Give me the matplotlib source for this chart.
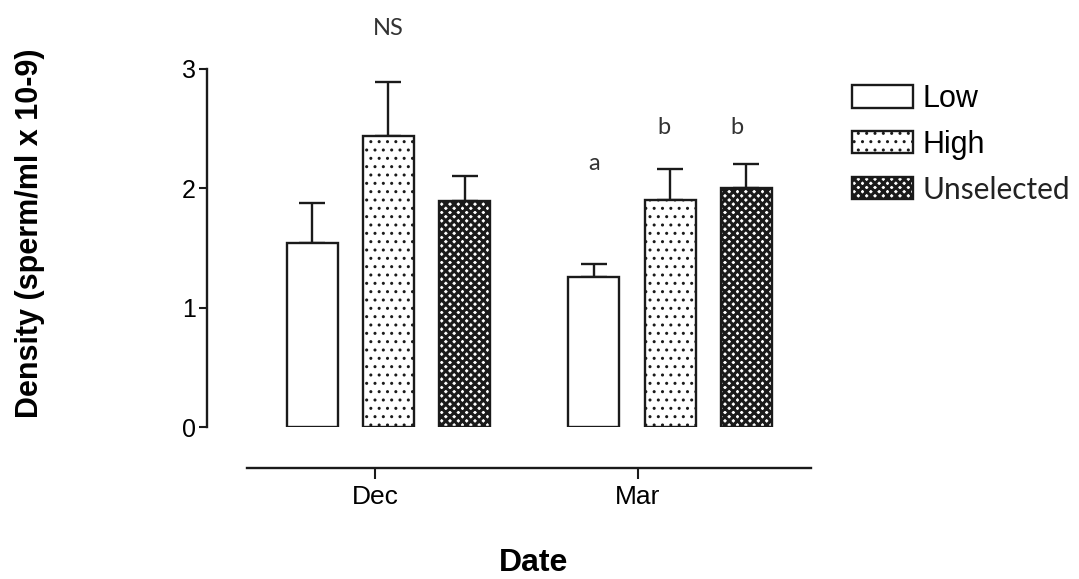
"""
Sperm density per selection line (Low / High / Unselected) in Dec and Mar.
Bar chart with upper error bars, hatched like the old GraphPad style.
"""
import matplotlib
matplotlib.use("Agg")
import matplotlib.pyplot as plt
import numpy as np

# data
months = ["Dec", "Mar"]
lines = ["Low", "High", "Unselected"]
low_mean = [1.54, 1.26]
low_err = [0.34, 0.11]
high_mean = [2.44, 1.90]
high_err = [0.45, 0.26]
unsel_mean = [1.89, 2.00]
unsel_err = [0.21, 0.20]
sig_labels = [["", "NS", ""], ["a", "b", "b"]]

# layout (data units, Dec tick = 0, Mar tick = 1)
group_centers = np.array([0.051, 1.122])
offset = 0.29
bar_w = 0.194

plt.rcParams["font.family"] = ["Liberation Sans", "DejaVu Sans"]
thin = ["Lato", "DejaVu Sans"]
ink = "#1a1a1a"

fig = plt.figure(figsize=(10.79, 5.79), dpi=100)
ax = fig.add_axes([0.19184, 0.26252, 0.55978, 0.61831])

styles = [
    dict(facecolor="white", hatch=None, hlw=1.0),
    dict(facecolor="white", hatch="..", hlw=1.0),
    dict(facecolor="white", hatch="xxxx", hlw=2.2),
]
means = [low_mean, high_mean, unsel_mean]
errs = [low_err, high_err, unsel_err]

handles = []
for i, (name, m, e, st) in enumerate(zip(lines, means, errs, styles)):
    xpos = group_centers + (i - 1) * offset
    with plt.rc_context({"hatch.linewidth": st["hlw"]}):
        bars = ax.bar(xpos, m, bar_w, facecolor=st["facecolor"], edgecolor=ink,
                      linewidth=1.7, hatch=st["hatch"], label=name, zorder=3)
        for b in bars:
            if hasattr(b, "set_hatch_linewidth"):
                b.set_hatch_linewidth(st["hlw"])
    ax.errorbar(xpos, m, yerr=[np.zeros(len(e)), e], fmt="none", ecolor=ink,
                elinewidth=1.7, capsize=9.5, capthick=1.7, zorder=2)
    handles.append(bars)

# significance letters
sig_y = [[0, 3.34, 0], [2.21, 2.51, 2.51]]
sig_dx = [[0, 0, 0], [0, -0.025, -0.035]]
for g, c in enumerate(group_centers):
    for i in range(3):
        if sig_labels[g][i]:
            ax.text(c + (i - 1) * offset + sig_dx[g][i], sig_y[g][i], sig_labels[g][i],
                    ha="center", va="center", fontsize=17, family=thin,
                    color="#333333", clip_on=False)

ax.set_xlim(-0.639, 1.658)
ax.set_ylim(0, 3)
ax.set_yticks([0, 1, 2, 3])
ax.set_xticks([0, 1])
ax.set_xticklabels(months)

ax.spines["top"].set_visible(False)
ax.spines["right"].set_visible(False)
for side in ["left", "bottom"]:
    ax.spines[side].set_linewidth(1.7)
    ax.spines[side].set_color(ink)
ax.spines["bottom"].set_position(("outward", 29.5))
ax.spines["bottom"].set_bounds(-0.487, 1.658)

ax.tick_params(axis="y", length=6, width=1.5, pad=2, labelsize=18, color=ink)
ax.tick_params(axis="x", length=8, width=1.5, pad=4, labelsize=19, color=ink)

fig.text(30 / 1079, 1 - 233 / 579, "Density (sperm/ml x 10-9)", rotation=90,
         ha="center", va="center", fontsize=22, fontweight="bold")
fig.text(534 / 1079, 1 - 563 / 579, "Date", ha="center", va="center",
         fontsize=23, fontweight="bold")

leg = fig.legend(handles=handles, labels=lines, loc="upper left",
                 bbox_to_anchor=(852 / 1079, 1 - 84 / 579), frameon=False,
                 fontsize=22, handlelength=2.0, handleheight=0.75,
                 handletextpad=0.3, labelspacing=0.52, borderpad=0, borderaxespad=0)
for h, st in zip(leg.legend_handles, styles):
    if hasattr(h, "set_hatch_linewidth"):
        h.set_hatch_linewidth(st["hlw"])
leg.get_texts()[2].set_family(thin)
leg.get_texts()[2].set_color("#222222")
leg.get_texts()[2].set_fontsize(21.5)

fig.savefig("out.png", dpi=100)
